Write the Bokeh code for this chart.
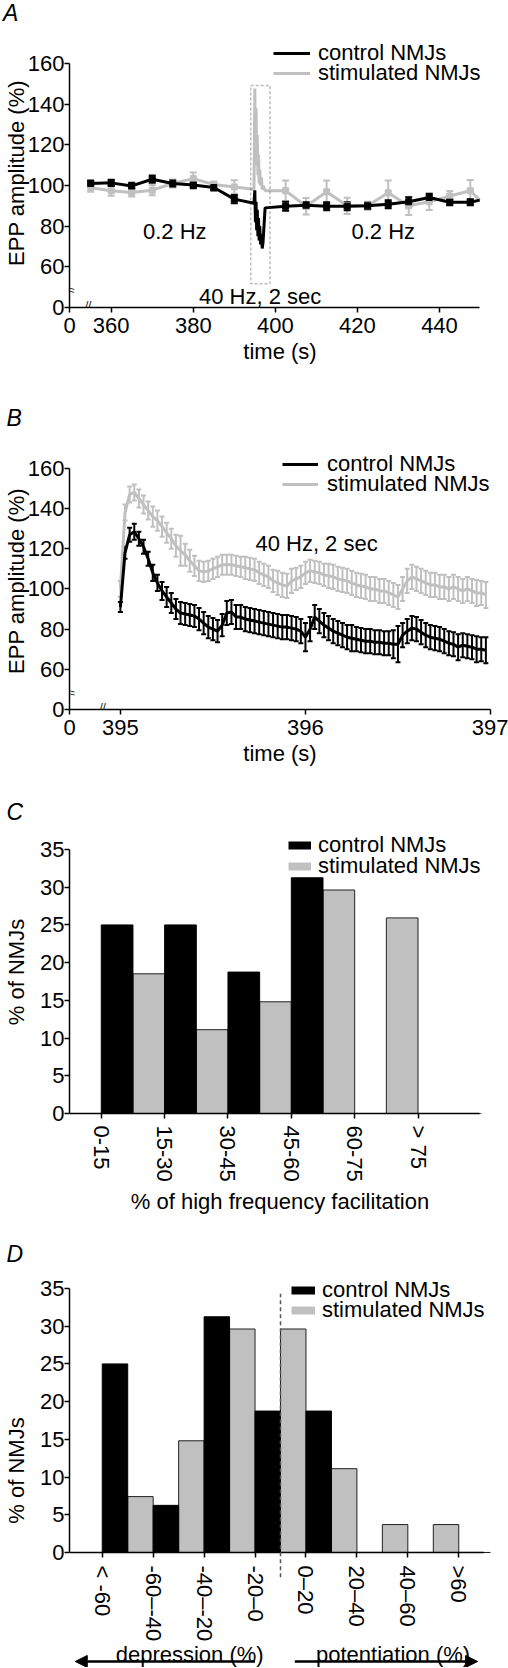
from bokeh.plotting import figure
from bokeh.models import (ColumnDataSource, Whisker, TeeHead, Legend, LegendItem, Label,
                          BoxAnnotation, FixedTicker, Range1d, Arrow, NormalHead, Div,
                          GlobalInlineStyleSheet)
from bokeh.layouts import column
from bokeh.embed import file_html
from bokeh.resources import INLINE

FONT = "Liberation Sans"
BLACK = "#000000"
GREY = "#c0c0c0"
FS = "22px"
W = 508
LEFT = 66          # common frame left (the column aligns all frames)
RIGHT = W - 490    # common frame right border
NAN = float("nan")

# ---------------- Panel A data ----------------
a_time = [355, 360, 365, 370, 375, 380, 385, 390,
          402.5, 407.5, 412.5, 417.5, 422.5, 427.5, 432.5, 437.5, 442.5, 447.5]
a_ctrl = [101.0, 101.3, 99.8, 103.1, 101.0, 100.2, 99.0, 93.3,
          89.8, 90.3, 89.8, 89.8, 90.0, 90.8, 92.0, 94.1, 91.8, 91.8]
a_ctrl_sem = [1.5, 1.5, 1.5, 1.8, 1.5, 1.5, 1.5, 2.0,
              2.2, 1.5, 2.0, 2.0, 1.5, 2.0, 2.2, 1.8, 1.5, 1.5]
a_stim = [98.9, 97.4, 96.6, 97.7, 101.0, 103.4, 100.5, 99.3,
          97.4, 89.8, 96.9, 90.0, 90.0, 96.4, 90.0, 92.0, 94.8, 97.4]
a_stim_sem = [2.0, 2.5, 2.0, 2.5, 2.0, 3.0, 1.5, 3.3,
              5.0, 4.0, 5.5, 4.0, 2.0, 6.0, 4.5, 4.0, 2.5, 5.3]
# the 40 Hz train as it appears at the slow time scale
a_train_time = [394.8, 395.0, 395.15, 395.3, 395.45, 395.6, 395.75, 395.9,
                396.05, 396.2, 396.4, 396.6, 396.8, 397.0, 397.5]
a_train_ctrl = [91.3, 97.6, 82, 92, 78, 88, 75, 84, 73, 80, 71, 76, 69, 72, 89.0]
a_train_stim = [98.2, 147.7, 118, 138, 110, 125, 105, 115, 101, 108, 100, 104, 98, 100, 97.4]
a_end_time = [449.8]
a_end_ctrl = [92.8]
a_end_stim = [92.8]
STIM_BOX = dict(left=394.0, right=398.7, bottom=51.7, top=149.2)
A_ZERO = 349.84

# ---------------- Panel B data (40 Hz, 2 s) ----------------
b_n = 80
b_time = [395 + i * 0.025 for i in range(b_n)]
b_ctrl = [91, 118, 127, 128.5, 125, 121, 115, 108, 103, 99,
          96, 93, 90, 88, 87.5, 87, 86.5, 85, 83, 81,
          80, 79, 82, 88, 88.5, 86, 86, 85, 84.5, 84,
          83.5, 83, 82.5, 82, 81.5, 81, 81, 80.5, 80, 79,
          76, 80, 86, 84, 82, 80.5, 79, 78, 77, 76,
          75.5, 75, 74.5, 74, 74, 73.5, 73.5, 73, 73, 72.5,
          72.5, 77, 79, 80.5, 80, 78.5, 77, 76, 75.5, 75,
          74, 73, 72.5, 71, 72, 71.5, 71, 70, 70, 69.5]
b_ctrl_sem = [2.5, 3, 3.5, 4, 3.5, 3.5, 3.5, 4, 4, 4.5,
              5, 5, 5, 5.5, 5.5, 5.5, 5.5, 5.5, 5.5, 5.5,
              5.5, 5.5, 5.5, 6, 6, 6, 6, 6, 6, 6,
              6, 6, 6, 6, 6, 6, 6, 6, 6, 6,
              7, 6, 6, 6, 6, 6, 6, 6, 6, 6,
              6.5, 6, 6, 6, 6, 6, 6, 6, 6, 7,
              9, 6, 6, 6, 6, 6, 6, 6, 6, 6,
              6, 6, 6, 6.5, 6, 6, 6, 6.5, 6, 6.5]
b_stim = [100, 138, 147, 148, 145, 142, 139, 136, 134, 131,
          128, 125, 121.5, 119, 117, 114, 111.5, 109, 108.5, 109,
          110, 111, 112, 112, 112, 111.5, 111, 110.5, 110, 109.5,
          108, 107, 106, 104, 103, 102, 101.5, 104, 105, 106,
          108, 109, 108.5, 108, 107, 106.5, 106, 105, 104.5, 104,
          103, 102, 101.5, 101, 100, 100, 99, 99, 98, 97,
          96, 100, 104, 106, 105, 104, 103, 102, 102, 101,
          101, 100, 101, 100, 99, 100, 99, 98, 98, 97]
b_stim_sem = [4, 4, 4, 4, 4.5, 4.5, 4.5, 5, 5, 5,
              5, 5, 5.5, 7.5, 5.5, 5.5, 5, 5, 5, 5,
              5, 5, 5, 5, 5, 5, 5, 5.5, 5.5, 5.5,
              5.5, 5.5, 5.5, 5.5, 6, 6, 6, 6, 5.5, 5.5,
              5.5, 5.5, 5.5, 5.5, 5.5, 6, 6, 6, 6, 6,
              6, 6, 6, 6, 6, 6, 6, 6, 6, 6,
              6, 6, 6, 6, 6, 6, 6, 6, 6, 6,
              6, 6, 6, 6, 6, 6, 6, 6.5, 6, 6.5]
B_ZERO = 394.725

# ---------------- Panel C data ----------------
c_cats = ["0-15", "15-30", "30-45", "45-60", "60-75", "> 75"]
c_ctrl = [25.0, 25.0, 18.75, 31.25, 0, 0]
c_stim = [18.52, 11.11, 14.81, 29.63, 25.93, 0]

# ---------------- Panel D data ----------------
d_cats = ["< -60", "-60\u2013-40", "-40\u2013-20", "-20\u20130", "0\u201320", "20\u201340", "40\u201360", ">60"]
d_ctrl = [25.0, 6.25, 31.25, 18.75, 18.75, 0, 0, 0]
d_stim = [7.41, 14.81, 29.63, 29.63, 11.11, 3.70, 3.70, 0]
D_ZERO = 3.5


def style(p, letter=None, standoff=0, xlabel=None, ylabel=None):
    for ax in p.axis:
        ax.axis_line_width = 1.5
        ax.axis_line_color = BLACK
        ax.major_tick_line_width = 1.5
        ax.major_tick_line_color = BLACK
        ax.major_tick_in = 0
        ax.major_tick_out = 5
        ax.minor_tick_line_color = None
        ax.major_label_text_font = FONT
        ax.major_label_text_font_size = FS
        ax.major_label_text_color = BLACK
        ax.axis_label_text_font = FONT
        ax.axis_label_text_font_size = FS
        ax.axis_label_text_font_style = "normal"
        ax.axis_label_text_color = BLACK
    p.yaxis.major_label_standoff = 0
    p.yaxis.axis_label_standoff = 0
    p.xaxis.major_label_standoff = 5
    p.xaxis.axis_label_standoff = 3
    if xlabel:
        p.xaxis.axis_label = xlabel
    if ylabel:
        p.yaxis.axis_label = ylabel
    p.grid.visible = False
    p.outline_line_color = None
    if letter:
        p.title.text = letter
        p.title.text_font = FONT
        p.title.text_font_style = "italic"
        p.title.text_font_size = "23px"
        p.title.text_color = BLACK
        p.title.align = "left"
        p.title.offset = -63
        p.title.standoff = standoff
    else:
        p.title.visible = False


def legend(p, label, rend, vx, vy, gw, standoff):
    lg = Legend(items=[LegendItem(label=label, renderers=[rend])], location=(vx, vy),
                label_text_font=FONT, label_text_font_size=FS, label_text_color=BLACK,
                glyph_width=gw, glyph_height=20,
                label_standoff=standoff, padding=0, margin=0, spacing=0, border_line_color=None,
                background_fill_alpha=0, label_height=20)
    p.add_layout(lg)


def text(p, x, y, t, baseline="middle"):
    p.add_layout(Label(x=x, y=y, text=t, text_font=FONT, text_font_size=FS, text_color=BLACK,
                       text_align="center", text_baseline=baseline))


def brk(p, x, y, angle=0.0):
    p.add_layout(Label(x=x, y=y, text="//", text_font=FONT, text_font_size="11px",
                       text_color=BLACK, angle=angle, text_align="center", text_baseline="middle"))


def whisk(p, src, color, size, lw):
    w = Whisker(source=src, base="x", upper="hi", lower="lo", line_color=color, line_width=lw,
                upper_head=TeeHead(size=size, line_color=color, line_width=lw),
                lower_head=TeeHead(size=size, line_color=color, line_width=lw))
    p.add_layout(w)


# ================= Panel A =================
divA = Div(text="<div style=\"font: italic 23px/23px 'Liberation Sans', sans-serif; color: #000; "
                "margin: 0; padding: 2px 0 0 3px;\">A</div>",
           width=W, height=30, margin=0)
pA = figure(width=W, height=350, x_range=Range1d(A_ZERO, 452.43), y_range=Range1d(40, 172.3),
            output_backend="svg", toolbar_location=None,
            min_border_left=LEFT, min_border_right=RIGHT, min_border_top=8, min_border_bottom=73)
style(pA, None, 0, "time (s)", "EPP amplitude (%)")
pA.yaxis.axis_label_standoff = -4
pA.yaxis.bounds = (40, 160)
pA.xaxis.bounds = (A_ZERO, 449.8)
pA.xaxis.ticker = FixedTicker(ticks=[A_ZERO, 360, 380, 400, 420, 440])
pA.xaxis.major_label_overrides = {A_ZERO: "0"}
pA.yaxis.ticker = FixedTicker(ticks=[40, 60, 80, 100, 120, 140, 160])
pA.yaxis.major_label_overrides = {40: "0"}

a_stim_src = ColumnDataSource(dict(x=a_time, y=a_stim,
                                   lo=[v - e for v, e in zip(a_stim, a_stim_sem)],
                                   hi=[v + e for v, e in zip(a_stim, a_stim_sem)]))
a_ctrl_src = ColumnDataSource(dict(x=a_time, y=a_ctrl,
                                   lo=[v - e for v, e in zip(a_ctrl, a_ctrl_sem)],
                                   hi=[v + e for v, e in zip(a_ctrl, a_ctrl_sem)]))
a_stim_line = ColumnDataSource(dict(x=a_time[:8] + a_train_time + a_time[8:] + a_end_time,
                                    y=a_stim[:8] + a_train_stim + a_stim[8:] + a_end_stim))
a_ctrl_line = ColumnDataSource(dict(x=a_time[:8] + a_train_time + a_time[8:] + a_end_time,
                                    y=a_ctrl[:8] + a_train_ctrl + a_ctrl[8:] + a_end_ctrl))
whisk(pA, a_stim_src, GREY, 7, 2)
rA_s = pA.line("x", "y", source=a_stim_line, line_color=GREY, line_width=3)
pA.scatter("x", "y", source=a_stim_src, marker="square", size=6, color=GREY)
whisk(pA, a_ctrl_src, BLACK, 7, 2)
rA_c = pA.line("x", "y", source=a_ctrl_line, line_color=BLACK, line_width=3)
pA.scatter("x", "y", source=a_ctrl_src, marker="square", size=6, color=BLACK)
pA.add_layout(BoxAnnotation(fill_alpha=0, line_color="#222222", line_width=1.5,
                            line_dash="3 2", **STIM_BOX))
text(pA, 375.5, 77.2, "0.2 Hz")
text(pA, 426.3, 77.2, "0.2 Hz")
text(pA, 396.3, 45.4, "40 Hz, 2 sec")
brk(pA, 354.4, 41)
brk(pA, 349.95, 48.7, 1.57)
legend(pA, "control NMJs", rA_c, 204, 241, 37, 8)
legend(pA, "stimulated NMJs", rA_s, 204, 221, 37, 8)

# ================= Panel B =================
pB = figure(width=W, height=395, x_range=Range1d(B_ZERO, 397.0), y_range=Range1d(40, 167.9),
            output_backend="svg", toolbar_location=None,
            min_border_left=LEFT, min_border_right=RIGHT, min_border_top=70, min_border_bottom=66)
style(pB, "B", 44, "time (s)", "EPP amplitude (%)")
pB.yaxis.axis_label_standoff = -4
pB.yaxis.bounds = (40, 160)
pB.xaxis.ticker = FixedTicker(ticks=[B_ZERO, 395, 396, 397])
pB.xaxis.major_label_overrides = {B_ZERO: "0"}
pB.yaxis.ticker = FixedTicker(ticks=[40, 60, 80, 100, 120, 140, 160])
pB.yaxis.major_label_overrides = {40: "0"}

b_stim_src = ColumnDataSource(dict(x=b_time, y=b_stim,
                                   lo=[v - e for v, e in zip(b_stim, b_stim_sem)],
                                   hi=[v + e for v, e in zip(b_stim, b_stim_sem)]))
b_ctrl_src = ColumnDataSource(dict(x=b_time, y=b_ctrl,
                                   lo=[v - e for v, e in zip(b_ctrl, b_ctrl_sem)],
                                   hi=[v + e for v, e in zip(b_ctrl, b_ctrl_sem)]))
whisk(pB, b_stim_src, GREY, 5, 2)
rB_s = pB.line("x", "y", source=b_stim_src, line_color=GREY, line_width=3)
whisk(pB, b_ctrl_src, BLACK, 5, 2)
rB_c = pB.line("x", "y", source=b_ctrl_src, line_color=BLACK, line_width=3)
text(pB, 396.06, 122.6, "40 Hz, 2 sec")
brk(pB, 394.905, 41)
brk(pB, 394.73, 48.5, 1.57)
legend(pB, "control NMJs", rB_c, 213, 232, 36, 9)
legend(pB, "stimulated NMJs", rB_s, 213, 212, 36, 9)


# ================= Panels C and D =================
def bars(p, cats, ctrl, stim, x_end):
    idx = list(range(len(cats)))
    src_c = ColumnDataSource(dict(x=[i + 0.25 for i in idx], top=ctrl))
    src_s = ColumnDataSource(dict(x=[i + 0.75 for i in idx], top=stim))
    p.vbar(x="x", top="top", width=0.5, source=src_s, fill_color=GREY, line_color="#222222",
           line_width=1)
    p.vbar(x="x", top="top", width=0.5, source=src_c, fill_color=BLACK, line_color=BLACK,
           line_width=1)
    # legend swatches (not drawn in the plot area, only in the legend)
    sw_c = p.line(x=[NAN, NAN], y=[NAN, NAN], line_color=BLACK, line_width=8)
    sw_s = p.line(x=[NAN, NAN], y=[NAN, NAN], line_color=GREY, line_width=8)
    p.xaxis.ticker = FixedTicker(ticks=idx)
    p.xaxis.major_label_overrides = {i: c for i, c in zip(idx, cats)}
    p.xaxis.major_label_orientation = "vertical"
    p.xaxis.major_label_standoff = 7
    p.xaxis.bounds = (p.x_range.start, x_end)
    p.yaxis.ticker = FixedTicker(ticks=[0, 5, 10, 15, 20, 25, 30, 35])
    p.yaxis.bounds = (0, 35)
    p.yaxis.axis_label_standoff = 8
    return sw_c, sw_s


pC = figure(width=W, height=445, x_range=Range1d(-0.5016, 6.144), y_range=Range1d(0, 37.52),
            output_backend="svg", toolbar_location=None,
            min_border_left=LEFT, min_border_right=RIGHT, min_border_top=55, min_border_bottom=107)
style(pC, "C", 11, "% of high frequency facilitation", "% of NMJs")
rC_c, rC_s = bars(pC, c_cats, c_ctrl, c_stim, 5.97)
pC.xaxis.axis_label_standoff = 4
legend(pC, "control NMJs", rC_c, 219, 255, 23, 7)
legend(pC, "stimulated NMJs", rC_s, 219, 234, 23, 7)

# D: the frame reaches the bottom of the page; the x axis sits at y = 0 so that the
# depression / potentiation arrows below it are drawn inside the frame
pD = figure(width=W, height=447, x_range=Range1d(-0.643, 7.623), y_range=Range1d(-15.25, 36.99),
            output_backend="svg", toolbar_location=None,
            min_border_left=LEFT, min_border_right=RIGHT, min_border_top=53, min_border_bottom=0)
style(pD, "D", 13, None, "% of NMJs")
rD_c, rD_s = bars(pD, d_cats, d_ctrl, d_stim, 7.485)
pD.xaxis.fixed_location = 0
pD.xaxis.major_label_standoff = 8
legend(pD, "control NMJs", rD_c, 222, 364, 24, 7)
legend(pD, "stimulated NMJs", rD_s, 222, 344, 24, 7)
pD.add_layout(Arrow(end=None, x_start=D_ZERO, y_start=-3.3, x_end=D_ZERO, y_end=34.3,
                    line_color="#555555", line_width=1.5, line_dash="4 3"))
text(pD, 1.716, -13.5, "depression (%)", "alphabetic")
text(pD, 5.71, -13.5, "potentiation (%)", "alphabetic")
pD.add_layout(Arrow(end=NormalHead(size=12, fill_color=BLACK, line_color=BLACK),
                    x_start=3.0, y_start=-14.45, x_end=-0.53, y_end=-14.45,
                    line_color=BLACK, line_width=2.5))
pD.add_layout(Arrow(end=NormalHead(size=12, fill_color=BLACK, line_color=BLACK),
                    x_start=3.78, y_start=-14.45, x_end=7.37, y_end=-14.45,
                    line_color=BLACK, line_width=2.5))

layout = column(divA, pA, pB, pC, pD, spacing=0,
                stylesheets=[GlobalInlineStyleSheet(css="body { margin: 0 !important; }")])
open("out.html", "w").write(file_html(layout, INLINE))
